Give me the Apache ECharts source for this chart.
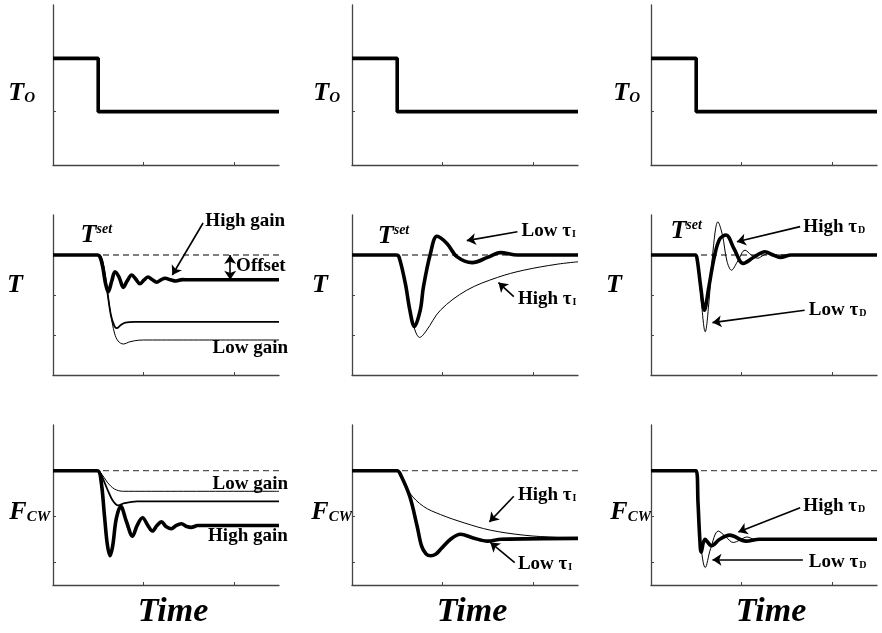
<!DOCTYPE html>
<html>
<head>
<meta charset="utf-8">
<script src="https://cdn.jsdelivr.net/npm/echarts@6/dist/echarts.min.js"></script>
<style>
html, body { margin: 0; padding: 0; background: #fff; }
#main { width: 882px; height: 633px; }
</style>
</head>
<body>
<div id="main"></div>
<script>
// ---- data (time 0..25, arbitrary units) ----
// row 1: outside temperature step
const toStep = [[0, 2], [5, 2], [5, 1], [25, 1]];

// row 2: reactor temperature T
const tGainHigh = [[0,3],[4.9,3],[5.2,2.95],[5.5,2.7],[5.8,2.3],[6.1,2.08],[6.5,2.35],[6.86,2.58],[7.3,2.45],[7.78,2.19],[8.2,2.35],[8.7,2.5],[9.15,2.4],[9.6,2.28],[10.05,2.37],[10.5,2.45],[11,2.38],[11.47,2.32],[11.95,2.38],[12.4,2.42],[13,2.38],[13.6,2.35],[14.3,2.385],[15,2.38],[25,2.38]];
const tGainMid  = [[0,3],[4.9,3],[5.3,2.95],[5.6,2.7],[6.0,2.1],[6.4,1.5],[6.8,1.22],[7.04,1.17],[7.5,1.25],[8,1.31],[9,1.33],[25,1.33]];
const tGainLow  = [[0,3],[4.9,3],[5.3,2.95],[5.6,2.7],[6.0,2.1],[6.4,1.5],[6.8,1.05],[7.2,0.85],[7.78,0.775],[8.5,0.83],[9.5,0.87],[10.5,0.875],[25,0.875]];
const tTauILow  = [[0,3],[4.9,3],[5.2,2.95],[5.9,2.29],[6.4,1.62],[6.9,1.21],[7.55,1.62],[7.9,2.2],[8.67,3.03],[9.4,3.47],[10.5,3.29],[11.6,2.96],[13.3,2.81],[15.0,2.94],[16.4,3.06],[18.3,3.0],[25,3.0]];
const tTauIHigh = [[0,3],[4.9,3],[5.2,2.95],[5.9,2.3],[6.5,1.55],[7.0,1.1],[7.48,0.94],[8.2,1.1],[9.78,1.62],[12.7,2.12],[16.1,2.44],[19.0,2.62],[22.7,2.77],[25,2.83]];
const tTauDHigh = [[0,3],[4.9,3],[5.1,2.9],[5.5,2.2],[5.9,1.62],[6.4,2.2],[7.0,2.95],[7.6,3.4],[8.3,3.5],[9.2,3.15],[10.2,2.79],[11.4,2.95],[12.6,3.08],[13.5,3.0],[14.3,2.94],[15.5,3.0],[25,3.0]];
const tTauDLow  = [[0,3],[4.9,3],[5.1,2.9],[5.5,2.0],[6.0,1.08],[6.4,1.8],[6.9,3.2],[7.4,3.83],[7.9,3.5],[8.4,2.85],[8.9,2.62],[9.6,2.85],[10.4,3.12],[11.1,3.0],[11.8,2.92],[12.5,3.0],[13.2,3.04],[14,3.0],[25,3.0]];

// row 3: cooling water flow F_CW
const fGainHigh = [[0,2.5],[4.9,2.5],[5.3,2.3],[5.7,1.5],[6.0,0.9],[6.3,0.64],[6.6,0.85],[7.0,1.45],[7.5,1.72],[8.1,1.4],[8.8,1.07],[9.3,1.3],[9.9,1.47],[10.5,1.3],[11.0,1.18],[11.5,1.3],[12.0,1.38],[12.5,1.28],[13.1,1.23],[13.6,1.3],[14.2,1.34],[14.8,1.28],[15.3,1.26],[16,1.3],[25,1.3]];
const fGainMid  = [[0,2.5],[4.9,2.5],[5.3,2.42],[6.0,2.1],[6.6,1.85],[7.2,1.74],[7.9,1.79],[9.3,1.83],[25,1.83]];
const fGainLow  = [[0,2.5],[4.9,2.5],[5.3,2.45],[6.0,2.25],[6.8,2.1],[7.8,2.05],[25,2.05]];
const fTauIHigh = [[0,2.5],[5.0,2.5],[5.4,2.4],[6.4,2.01],[7.9,1.72],[9.8,1.54],[12.4,1.36],[15.3,1.2],[19.0,1.09],[22.7,1.04],[25,1.02]];
const fTauILow  = [[0,2.5],[5.0,2.5],[5.4,2.4],[6.4,1.93],[7.2,1.29],[7.7,0.85],[8.2,0.68],[8.7,0.64],[9.3,0.68],[9.8,0.78],[10.9,1.0],[12.0,1.11],[13.4,1.03],[15.0,0.96],[16.5,1.0],[25,1.02]];
const fTauDHigh = [[0,2.5],[5.0,2.5],[5.2,1.8],[5.4,1.0],[5.55,0.72],[5.97,1.0],[6.7,0.86],[7.6,1.0],[8.7,1.09],[10.5,0.96],[12,1.0],[25,1.0]];
const fTauDLow  = [[0,2.5],[5.0,2.5],[5.2,1.8],[5.5,0.9],[6.0,0.38],[6.6,0.8],[7.45,1.18],[8.3,1.05],[9.1,0.93],[9.8,0.98],[10.6,1.05],[11.5,1.0],[25,1.0]];

const tSet = 3;
const fSet = 2.5;
const dashEnd = [26.2, 25.7, 25.2];

// axis ticks
const xTicks = [10, 20];
const yTicksTo = [1, 2];
const yTicksT = [1, 2, 3];
const yTicksF = [0.5, 1.5, 2.5];

// ---- chart ----
var SERIF = "'Liberation Serif', 'DejaVu Serif', serif";
var myChart = echarts.init(document.getElementById('main'));

var colLeft = [53, 352, 651];
var rowTop = [5, 215, 425];
var rowY = [
  { max: 3, ticks: yTicksTo },
  { max: 4, ticks: yTicksT },
  { max: 3.5, ticks: yTicksF }
];

var rich = {
  b: { fontFamily: SERIF, fontWeight: 'bold', fontSize: 19, color: '#000' },
  s: { fontFamily: SERIF, fontWeight: 'bold', fontSize: 10, color: '#000', verticalAlign: 'bottom', padding: [0, 0, 1, 1] },
  T: { fontFamily: SERIF, fontWeight: 'bold', fontStyle: 'italic', fontSize: 26, color: '#000' },
  sup: { fontFamily: SERIF, fontWeight: 'bold', fontStyle: 'italic', fontSize: 14, color: '#000', verticalAlign: 'top' },
  sub: { fontFamily: SERIF, fontWeight: 'bold', fontStyle: 'italic', fontSize: 15, color: '#000', verticalAlign: 'bottom' }
};

var rowNames = ['{T|T}{sub|O}', '{T|T}', '{T|F}{sub|CW}'];
var nameGaps = [[18, 12, 11], [30, 24, 29], [3, 0, 0]];
var namePad = [[16, 0, 0, 0], [0, 0, 20, 0], [14, 0, 0, 0]];

var grids = [], xAxes = [], yAxes = [], series = [];

for (var r = 0; r < 3; r++) {
  for (var c = 0; c < 3; c++) {
    var i = r * 3 + c;
    grids.push({ left: colLeft[c], top: rowTop[r], width: 226, height: 160 });
    xAxes.push({
      type: 'value', gridIndex: i, min: 0, max: 25,
      axisLine: { show: true, lineStyle: { color: '#444', width: 1.3 } },
      axisTick: { show: true, inside: true, length: 3, customValues: xTicks, lineStyle: { color: '#444' } },
      axisLabel: { show: false }, splitLine: { show: false },
      name: r === 2 ? 'Time' : '', nameLocation: 'middle', nameGap: 10,
      nameTextStyle: { fontFamily: SERIF, fontWeight: 'bold', fontStyle: 'italic', fontSize: 34, color: '#000', padding: [0, 0, 0, 14] }
    });
    yAxes.push({
      type: 'value', gridIndex: i, min: 0, max: rowY[r].max,
      axisLine: { show: true, lineStyle: { color: '#444', width: 1.3 } },
      axisTick: { show: true, inside: true, length: 3, customValues: rowY[r].ticks, lineStyle: { color: '#444' } },
      axisLabel: { show: false }, splitLine: { show: false },
      name: rowNames[r], nameLocation: 'middle', nameRotate: 0, nameGap: nameGaps[r][c],
      nameTextStyle: { align: 'right', rich: rich, padding: namePad[r] }
    });
  }
}

function line(i, data, width, smooth) {
  return {
    type: 'line', xAxisIndex: i, yAxisIndex: i, data: data,
    symbol: 'none', smooth: smooth ? 0.35 : false, silent: true, animation: false,
    lineStyle: { color: '#000', width: width }
  };
}

function dashed(i, level, end) {
  return {
    type: 'line', xAxisIndex: i, yAxisIndex: i, data: [[0, level], [end, level]],
    symbol: 'none', clip: false, silent: true, animation: false, z: 1,
    lineStyle: { color: '#555', width: 1.3, type: [6, 4] }
  };
}

function notes(i, list, arrows) {
  var s = {
    type: 'line', xAxisIndex: i, yAxisIndex: i, data: [], symbol: 'none', silent: true, animation: false,
    markPoint: {
      symbol: 'rect', symbolSize: 1, itemStyle: { color: 'rgba(0,0,0,0)' }, animation: false, silent: true,
      label: { show: true, position: 'right', distance: 0, rich: rich },
      data: list.map(function (n) { return { coord: [n[0], n[1]], label: { formatter: n[2] } }; })
    }
  };
  if (arrows) {
    s.markLine = {
      silent: true, animation: false, symbolSize: 9, label: { show: false },
      lineStyle: { color: '#000', width: 1.6, type: 'solid' },
      data: arrows.map(function (a) {
        return [
          { coord: [a[0], a[1]], symbol: a[4] ? 'arrow' : 'none' },
          { coord: [a[2], a[3]], symbol: 'arrow' }
        ];
      })
    };
  }
  return s;
}

// row 1
for (var c1 = 0; c1 < 3; c1++) series.push(line(c1, toStep, 3.6, false));

// row 2
series.push(dashed(3, tSet, dashEnd[0]), line(3, tGainLow, 1, true), line(3, tGainMid, 1.8, true), line(3, tGainHigh, 3.6, true));
series.push(notes(3, [[16.8, 3.85, '{b|High gain}'], [20.2, 2.72, '{b|Offset}'], [17.6, 0.675, '{b|Low gain}'], [3.0, 3.49, '{T|T}{sup|set}']],
  [[16.6, 3.8, 13.2, 2.5], [19.6, 2.38, 19.6, 3.0, true]]));

series.push(dashed(4, tSet, dashEnd[1]), line(4, tTauIHigh, 1, true), line(4, tTauILow, 3.6, true));
series.push(notes(4, [[18.7, 3.6, '{b|Low τ}{s|I}'], [18.3, 1.9, '{b|High τ}{s|I}'], [2.8, 3.46, '{T|T}{sup|set}']],
  [[18.3, 3.58, 12.7, 3.36], [17.9, 1.96, 16.2, 2.31]]));

series.push(dashed(5, tSet, dashEnd[2]), line(5, tTauDLow, 1, true), line(5, tTauDHigh, 3.6, true));
series.push(notes(5, [[16.8, 3.7, '{b|High τ}{s|D}'], [17.4, 1.62, '{b|Low τ}{s|D}'], [2.1, 3.59, '{T|T}{sup|set}']],
  [[16.5, 3.71, 9.5, 3.33], [17.0, 1.62, 6.8, 1.31]]));

// row 3
series.push(dashed(6, fSet, dashEnd[0]), line(6, fGainLow, 1, true), line(6, fGainMid, 1.8, true), line(6, fGainHigh, 3.6, true));
series.push(notes(6, [[17.6, 2.2, '{b|Low gain}'], [17.1, 1.07, '{b|High gain}']]));

series.push(dashed(7, fSet, dashEnd[1]), line(7, fTauIHigh, 1, true), line(7, fTauILow, 3.6, true));
series.push(notes(7, [[18.3, 1.96, '{b|High τ}{s|I}'], [18.3, 0.46, '{b|Low τ}{s|I}']],
  [[17.9, 1.94, 15.2, 1.38], [18.0, 0.49, 15.3, 0.93]]));

series.push(dashed(8, fSet, dashEnd[2]), line(8, fTauDLow, 1, true), line(8, fTauDHigh, 3.6, true));
series.push(notes(8, [[16.8, 1.72, '{b|High τ}{s|D}'], [17.4, 0.5, '{b|Low τ}{s|D}']],
  [[16.5, 1.69, 9.66, 1.16], [16.8, 0.55, 6.8, 0.55]]));

var option = {
  animation: false,
  backgroundColor: '#fff',
  grid: grids,
  xAxis: xAxes,
  yAxis: yAxes,
  series: series
};
myChart.setOption(option);
</script>
</body>
</html>
